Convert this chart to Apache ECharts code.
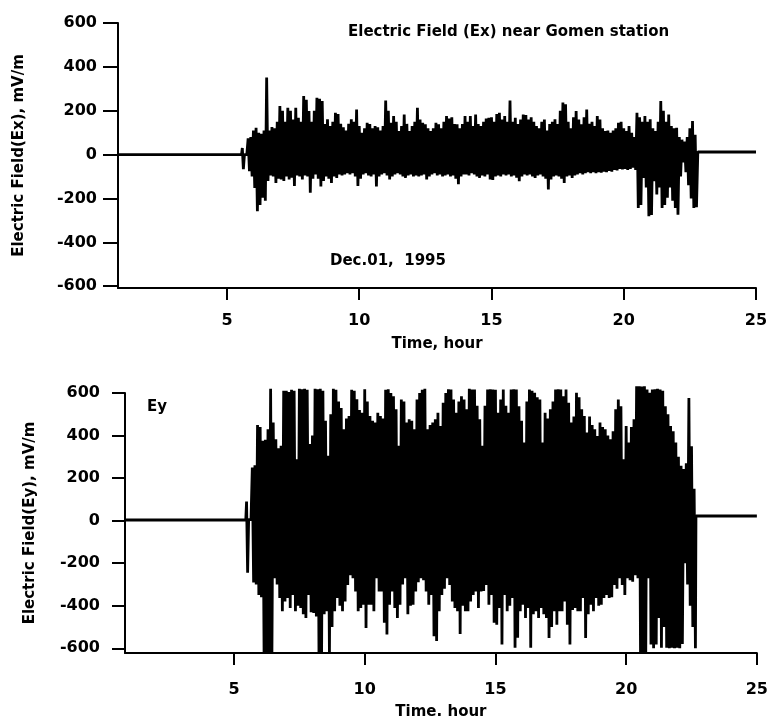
<!DOCTYPE html>
<html><head><meta charset="utf-8">
<script src="https://cdn.jsdelivr.net/npm/echarts@6/dist/echarts.min.js"></script>
<style>html,body{margin:0;padding:0;background:#fff}#c{width:771px;height:721px}</style>
</head><body><div id="c"></div>
<script>
// ---- tick labels ----
const hourTicks = [5, 10, 15, 20, 25];
const fieldTicks = [-600, -400, -200, 0, 200, 400, 600];

// ---- sampling of the active interval (hours) ----
const sampleStep = 0.1;
const exStart = 5.8;   // first column of Ex burst
const eyStart = 5.7;   // first column of Ey burst

// ---- Ex (top panel), mV/m ----
const exPreT = [0.88, 5.55, 5.58, 5.62, 5.66, 5.75];
const exPreV = [0, 0, 30, -66, 0, 0];
const exHi = [
  74, 80,
  110, 122, 100, 95, 110, 351, 110, 126, 120, 150,
  221, 200, 150, 214, 200, 160, 214, 168, 150, 267,
  250, 199, 150, 200, 259, 255, 244, 140, 161, 130,
  150, 191, 185, 140, 125, 110, 140, 161, 150, 206,
  130, 100, 120, 145, 140, 120, 130, 125, 110, 130,
  247, 200, 145, 176, 150, 107, 130, 183, 140, 107,
  130, 150, 214, 160, 145, 138, 120, 107, 120, 145,
  138, 120, 150, 176, 165, 170, 140, 138, 120, 140,
  176, 150, 176, 130, 183, 140, 130, 150, 165, 168,
  170, 150, 185, 191, 160, 176, 150, 247, 150, 168,
  140, 160, 183, 180, 160, 170, 150, 130, 120, 150,
  160, 110, 140, 150, 161, 140, 200, 237, 230, 150,
  120, 170, 199, 160, 138, 170, 206, 140, 150, 130,
  176, 160, 120, 107, 110, 100, 110, 120, 145, 150,
  120, 107, 130, 100, 80, 191, 170, 150, 176, 150,
  161, 120, 107, 150, 244, 200, 150, 183, 130, 120,
  122, 80, 68, 60, 80, 120, 153, 90
];
const exLo = [
  -75, -100,
  -152, -258, -230, -197, -210, -120, -95, -100, -129, -110,
  -113, -120, -100, -113, -105, -143, -95, -100, -113, -95,
  -100, -174, -110, -90, -110, -145, -120, -100, -110, -129,
  -100, -106, -90, -95, -90, -85, -90, -85, -100, -143,
  -110, -90, -85, -95, -100, -90, -145, -100, -90, -85,
  -95, -113, -100, -90, -85, -90, -100, -106, -95, -90,
  -100, -95, -100, -95, -90, -113, -100, -90, -85, -95,
  -90, -100, -95, -90, -100, -95, -110, -135, -100, -90,
  -90, -95, -85, -90, -100, -106, -95, -100, -90, -113,
  -115, -100, -95, -100, -90, -95, -90, -100, -95, -105,
  -121, -100, -90, -95, -90, -100, -106, -95, -90, -100,
  -110, -159, -113, -100, -95, -100, -110, -129, -100, -95,
  -106, -95, -90, -85, -90, -85, -80, -85, -80, -85,
  -80, -82, -78, -80, -75, -78, -70, -72, -65, -68,
  -65, -70, -65, -60, -70, -243, -230, -106, -150, -281,
  -275, -121, -182, -150, -243, -230, -197, -150, -210, -243,
  -274, -100, -36, -80, -140, -200, -243, -240
];
const exPostT = [22.8, 25.0];
const exPostV = [12, 12];

// ---- Ey (bottom panel), mV/m ----
const eyPreT = [0.83, 5.45, 5.48, 5.52, 5.56, 5.65];
const eyPreV = [3, 3, 90, -245, 5, 5];
const eyHi = [
  250, 260, 450,
  440, 375, 380, 429, 620, 461, 383, 340, 352, 610,
  610, 605, 615, 610, 289, 620, 618, 620, 615, 360,
  400, 620, 618, 620, 610, 470, 305, 500, 620, 615,
  560, 530, 429, 480, 492, 615, 610, 570, 520, 507,
  618, 560, 492, 470, 461, 507, 492, 480, 615, 618,
  600, 585, 523, 352, 569, 560, 461, 476, 470, 429,
  569, 600, 615, 620, 429, 450, 461, 476, 507, 445,
  554, 600, 618, 616, 569, 507, 560, 585, 569, 523,
  620, 616, 616, 540, 476, 352, 540, 616, 618, 616,
  615, 507, 569, 616, 540, 507, 616, 618, 616, 538,
  470, 367, 560, 616, 610, 601, 580, 569, 367, 507,
  480, 523, 560, 616, 618, 616, 585, 616, 554, 461,
  490, 601, 580, 523, 492, 414, 490, 450, 429, 398,
  461, 440, 429, 400, 383, 420, 523, 569, 538, 289,
  445, 367, 440, 476, 632, 632, 630, 632, 616, 601,
  616, 618, 620, 616, 610, 538, 500, 445, 420, 367,
  300, 258, 243, 270, 577, 350, 150
];
const eyLo = [
  -290, -300, -349,
  -360, -621, -621, -621, -621, -271, -300, -364, -426, -380,
  -364, -411, -349, -426, -400, -411, -440, -457, -349, -430,
  -434, -450, -621, -621, -440, -426, -621, -500, -426, -364,
  -400, -426, -380, -302, -256, -271, -333, -426, -411, -395,
  -504, -395, -395, -426, -271, -333, -333, -480, -535, -395,
  -333, -411, -457, -395, -300, -271, -440, -400, -395, -333,
  -290, -271, -280, -333, -395, -349, -543, -566, -426, -349,
  -320, -271, -302, -380, -411, -426, -533, -400, -426, -426,
  -380, -349, -333, -411, -333, -330, -302, -395, -349, -480,
  -489, -411, -582, -349, -426, -400, -364, -597, -550, -426,
  -395, -457, -411, -597, -440, -426, -457, -411, -440, -457,
  -551, -500, -426, -489, -426, -426, -380, -489, -582, -420,
  -411, -426, -426, -364, -551, -440, -395, -426, -364, -400,
  -395, -364, -349, -364, -360, -302, -320, -271, -302, -349,
  -271, -280, -287, -256, -271, -621, -621, -621, -271, -582,
  -600, -582, -457, -597, -500, -597, -600, -597, -600, -597,
  -600, -580, -200, -300, -400, -500, -600
];
const eyPostT = [22.67, 25.0];
const eyPostV = [22, 22];

// ---- build the traces from the arrays ----
function buildTrace(preT, preV, start, hi, lo, postT, postV) {
  const pts = [];
  preT.forEach((t, i) => pts.push([t, preV[i]]));
  hi.forEach((h, i) => {
    const t = start + i * sampleStep;
    pts.push([+t.toFixed(3), h]);
    pts.push([+(t + sampleStep / 2).toFixed(3), lo[i]]);
  });
  postT.forEach((t, i) => pts.push([t, postV[i]]));
  return pts;
}
const exData = buildTrace(exPreT, exPreV, exStart, exHi, exLo, exPostT, exPostV);
const eyData = buildTrace(eyPreT, eyPreV, eyStart, eyHi, eyLo, eyPostT, eyPostV);

const FONT = 'DejaVu Sans';
const txt = (size) => ({ color: '#000', fontFamily: FONT, fontWeight: 'bold', fontSize: size });
const lineS = { color: '#000', width: 2 };

function xAx(grid, min, nameText, labelMargin, nameGap) {
  return {
    gridIndex: grid, type: 'value', min: min, max: 25,
    axisLine: { onZero: false, lineStyle: lineS },
    axisTick: { customValues: hourTicks, length: 12, lineStyle: lineS },
    axisLabel: Object.assign({ customValues: hourTicks, margin: labelMargin }, txt(16)),
    splitLine: { show: false },
    name: nameText, nameLocation: 'middle', nameGap: nameGap,
    nameTextStyle: txt(15)
  };
}
function yAx(grid, min, nameText, tickLen, labelMargin, nameGap) {
  return {
    gridIndex: grid, type: 'value', min: min, max: 600,
    axisLine: { onZero: false, lineStyle: lineS },
    axisTick: { customValues: fieldTicks, length: tickLen, lineStyle: lineS },
    axisLabel: Object.assign({ customValues: fieldTicks, margin: labelMargin }, txt(16)),
    splitLine: { show: false },
    name: nameText, nameLocation: 'middle', nameGap: nameGap, nameRotate: 90,
    nameTextStyle: txt(15)
  };
}

const traceStyle = { color: '#000', width: 2.8, join: 'bevel' };

const chart = echarts.init(document.getElementById('c'), null, { renderer: 'canvas' });
chart.setOption({
  animation: false,
  backgroundColor: '#fff',
  title: [
    { text: 'Electric Field (Ex) near Gomen station', left: 348, top: 25, padding: 0, textStyle: txt(15) },
    { text: 'Dec.01,  1995', left: 330, top: 254, padding: 0, textStyle: txt(15) },
    { text: 'Ey', left: 147, top: 400, padding: 0, textStyle: txt(15) }
  ],
  grid: [
    { left: 118, top: 23, width: 638, height: 265 },
    { left: 125, top: 393, width: 638, height: 262 }
  ],
  xAxis: [
    xAx(0, 0.88, 'Time, hour', 25, 49),
    xAx(1, 0.83, 'Time. hour', 29, 52)
  ],
  yAxis: [
    yAx(0, -608, 'Electric Field(Ex), mV/m', 15, 21, 91),
    yAx(1, -622, 'Electric Field(Ey), mV/m', 13, 25, 87)
  ],
  series: [
    { type: 'line', xAxisIndex: 0, yAxisIndex: 0, data: exData, showSymbol: false, symbol: 'none',
      clip: false, lineStyle: traceStyle, silent: true },
    { type: 'line', xAxisIndex: 1, yAxisIndex: 1, data: eyData, showSymbol: false, symbol: 'none',
      clip: false, lineStyle: traceStyle, silent: true }
  ]
});
</script></body></html>
